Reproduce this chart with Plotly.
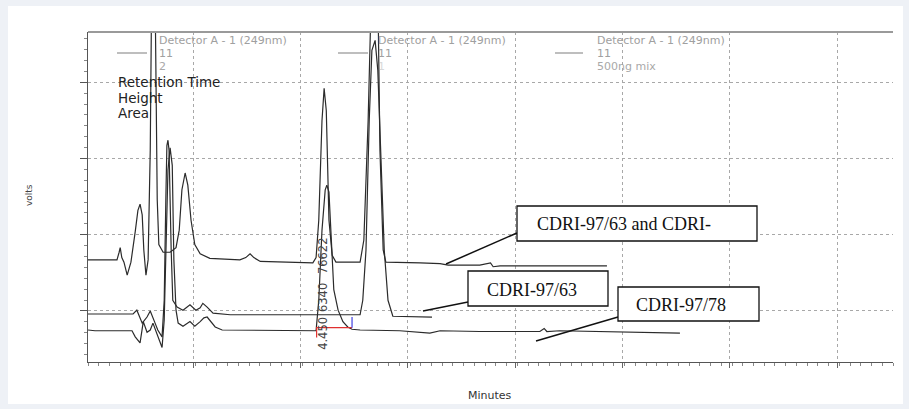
import plotly.graph_objects as go

# ---- data (minutes, volts-like units) ----
t1_min = [0.00, 0.54, 0.58, 0.60, 0.63, 0.67, 0.73, 0.80, 0.88, 0.93, 0.97, 1.01, 1.04, 1.08, 1.12,
          1.16, 1.19, 1.21, 1.25, 1.29, 1.32, 1.40, 1.53, 1.64, 1.70, 1.75, 1.81, 1.86, 1.92, 1.99,
          2.09, 2.27, 2.83, 2.94, 3.02, 3.09, 3.21, 3.95, 4.19, 4.25, 4.30, 4.36, 4.40, 4.44, 4.49,
          4.55, 4.62, 5.07, 5.14, 5.22, 5.27, 5.33, 5.39, 5.44, 5.50, 5.55, 6.19, 6.56, 6.71, 7.30,
          7.50, 7.55, 7.68, 8.42, 9.67]
t1_val = [67, 67, 77, 83, 70, 64, 47, 64, 104, 132, 140, 126, 80, 47, 67,
          211, 450, 540, 420, 146, 87, 77, 77, 83, 106, 159, 181, 165, 119, 87,
          75, 69, 67, 70, 75, 70, 65, 63, 63, 70, 119, 250, 292, 263, 119,
          73, 64, 64, 93, 250, 480, 560, 480, 211, 80, 64, 63, 62, 60, 60,
          63, 58, 59, 59, 59]

t2_min = [0.00, 0.22, 0.84, 0.91, 1.01, 1.10, 1.16, 1.25, 1.30, 1.38, 1.42, 1.45, 1.47, 1.49,
          1.51, 1.55, 1.58, 1.66, 1.77, 1.90, 2.01, 2.09, 2.14, 2.22, 2.33, 2.65, 4.19, 5.07,
          5.12, 5.18, 5.24, 5.29, 5.35, 5.40, 5.46, 5.52, 5.59, 5.68, 6.41]
t2_val = [-4, -4, -4, 1, -16, -8, 0, -16, -25, -34, 14, 145, 217, 224,
          211, 80, 14, 5, 1, 8, 1, 4, 10, 5, -3, -5, -5, -5,
          14, 80, 250, 342, 355, 316, 198, 80, 14, -7, -8]

t3_min = [0.00, 0.13, 0.82, 0.88, 0.97, 1.03, 1.10, 1.16, 1.21, 1.30, 1.38, 1.42, 1.45, 1.49,
          1.53, 1.57, 1.60, 1.64, 1.68, 1.77, 1.90, 1.99, 2.09, 2.16, 2.22, 2.29, 2.37, 2.50,
          3.95, 4.25, 4.30, 4.36, 4.42, 4.45, 4.49, 4.53, 4.58, 4.66, 4.75, 4.84, 4.92, 5.07,
          5.81, 6.37, 6.56, 7.30, 8.42, 8.50, 8.55, 8.79, 9.54, 11.03]
t3_val = [-25, -26, -26, -34, -42, -14, -28, -25, -16, -34, -48, -12, 80, 185,
          214, 191, 67, 1, -16, -20, -14, -20, -14, -9, -8, -14, -21, -25,
          -26, -26, 14, 106, 159, 165, 156, 106, 28, 1, -14, -21, -24, -25,
          -26, -29, -26, -27, -27, -23, -27, -26, -27, -29]

peak_rt = 4.450
peak_height = 6340
peak_area = 76622
peak_start, peak_end, peak_base = 4.26, 4.92, -22

trace_color = "#2b2b2b"
fig = go.Figure()
for xs, ys in [(t1_min, t1_val), (t2_min, t2_val), (t3_min, t3_val)]:
    fig.add_trace(go.Scatter(x=xs, y=ys, mode="lines",
                             line=dict(color=trace_color, width=1.2),
                             hoverinfo="skip", showlegend=False))

# integration baseline markers
fig.add_trace(go.Scatter(x=[peak_start, peak_start, peak_end], y=[peak_base - 13, peak_base, peak_base],
                         mode="lines", line=dict(color="#e03030", width=1.2), showlegend=False))
fig.add_trace(go.Scatter(x=[peak_end, peak_end], y=[peak_base, peak_base + 14],
                         mode="lines", line=dict(color="#4040e0", width=1.2), showlegend=False))

SANS = "DejaVu Sans"
# rotated peak labels
for txt, yv in [(f"{peak_rt:.3f}", -30), (str(peak_height), 17), (str(peak_area), 72)]:
    fig.add_annotation(x=4.38, y=yv, xref="x", yref="y", text=txt, textangle=-90,
                       showarrow=False, font=dict(family=SANS, size=11.5, color="#444"))

# ---- layout ----
L, R, T, B = 88, 16, 32, 47
W, H = 909, 409
pw, ph = W - L - R, H - T - B
def px(xp):
    return (xp - L) / pw
def py(yp):
    return (H - B - yp) / ph

shapes = []
# white inner panel
shapes.append(dict(type="rect", xref="paper", yref="paper", x0=px(8), x1=px(903), y0=py(404), y1=py(6),
                   fillcolor="white", line=dict(width=0), layer="below"))
# top frame line
shapes.append(dict(type="line", xref="paper", yref="paper", x0=0, x1=1, y0=1, y1=1,
                   line=dict(color="#9a9a9a", width=2)))

# legend (detector) entries
legend_x = [157, 376, 595]
legend_line = [(117, 147), (338, 368), (555, 583)]
legend_3rd = ["2", "1", "500ng mix"]
for lx, (a, b), third in zip(legend_x, legend_line, legend_3rd):
    shapes.append(dict(type="line", xref="paper", yref="paper", x0=px(a), x1=px(b), y0=py(53), y1=py(53),
                       line=dict(color="#a8a8a8", width=1.5)))
    for txt, yy, op in [("Detector A - 1 (249nm)", 40.5, 1), ("11", 53.5, 1),
                        (third, 66.5, 0.9 if third != "1" else 0.4)]:
        fig.add_annotation(x=px(lx), y=py(yy), xref="paper", yref="paper", text=txt, showarrow=False,
                           xanchor="left", yanchor="middle", opacity=op,
                           font=dict(family=SANS, size=11, color="#a0a0a0"))

for txt, yy in [("Retention Time", 82), ("Height", 98), ("Area", 113)]:
    fig.add_annotation(x=px(116), y=py(yy), xref="paper", yref="paper", text=txt, showarrow=False,
                       xanchor="left", yanchor="middle",
                       font=dict(family=SANS, size=13.5, color="#222"))

# callout boxes
boxes = [
    ("CDRI-97/63 and CDRI-", (517, 757, 206, 241), (535, 224), ((517, 233), (446, 264))),
    ("CDRI-97/63", (468, 608, 271, 306), (485, 290), ((468, 302), (423, 311))),
    ("CDRI-97/78", (618, 759, 287, 321), (634, 305), ((618, 317), (536, 341))),
]
for txt, (x0, x1, y0, y1), (tx, ty), ((lx0, ly0), (lx1, ly1)) in boxes:
    shapes.append(dict(type="line", xref="paper", yref="paper", x0=px(lx0), y0=py(ly0), x1=px(lx1), y1=py(ly1),
                       line=dict(color="#111", width=1.5)))
    shapes.append(dict(type="rect", xref="paper", yref="paper", x0=px(x0), x1=px(x1), y0=py(y1), y1=py(y0),
                       fillcolor="white", line=dict(color="#111", width=1.3)))
    fig.add_annotation(x=px(tx), y=py(ty), xref="paper", yref="paper", text=txt, showarrow=False,
                       xanchor="left", yanchor="middle",
                       font=dict(family="Liberation Serif", size=18, color="#111"))

# axis titles
fig.add_annotation(x=px(22), y=py(195), xref="paper", yref="paper", text="volts", textangle=-90,
                   showarrow=False, font=dict(family=SANS, size=9, color="#444"))
fig.add_annotation(x=px(490), y=py(404), xref="paper", yref="paper", text="Minutes",
                   showarrow=False, font=dict(family=SANS, size=11, color="#333"))

fig.update_layout(
    width=W, height=H, margin=dict(l=L, r=R, t=T, b=B),
    paper_bgcolor="#eef1f6", plot_bgcolor="white",
    shapes=shapes, showlegend=False,
    xaxis=dict(range=[0, 15], tick0=-0.04, dtick=2, showgrid=True, gridcolor="#a8a8a8", griddash="dot",
               gridwidth=1, zeroline=False, showline=True, linecolor="#555", linewidth=1.2,
               ticks="outside", ticklen=5, tickcolor="#666", showticklabels=False,
               minor=dict(dtick=0.2, ticks="outside", ticklen=3, tickcolor="#888", showgrid=False)),
    yaxis=dict(range=[-67, 366], tick0=0, dtick=100, showgrid=True, gridcolor="#a8a8a8", griddash="dot",
               gridwidth=1, zeroline=False, showline=True, linecolor="#555", linewidth=1.2,
               ticks="outside", ticklen=7, tickcolor="#555", showticklabels=False,
               minor=dict(dtick=100 / 7, ticks="outside", ticklen=3, tickcolor="#888", showgrid=False)),
)

fig.write_html("out.html", config={"displayModeBar": False},
               post_script="document.body.style.margin='0px';document.body.style.background='#eef1f6';")
